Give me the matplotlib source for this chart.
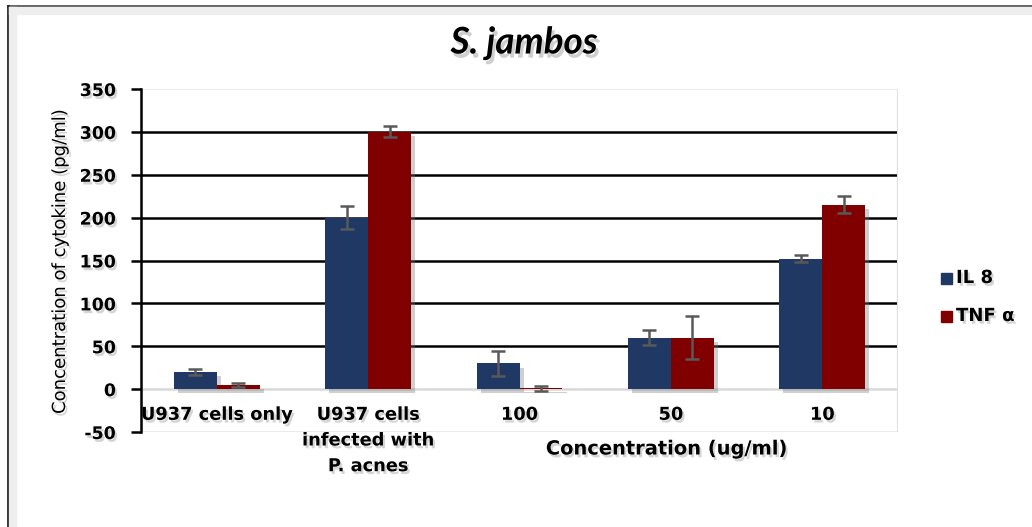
import numpy as np
import matplotlib
matplotlib.use("Agg")
import matplotlib.pyplot as plt
import matplotlib.patheffects as pe
from matplotlib.lines import Line2D
from matplotlib.patches import Rectangle

# Cytokine release (pg/ml) by U937 cells, S. jambos extract
categories = ["U937 cells only", "U937 cells\ninfected with\nP. acnes", "100", "50", "10"]
il8 = [20, 200, 30, 60, 152]
il8_err = [4, 13.5, 15, 9, 4]
tnf = [5, 300, 1, 60, 215]
tnf_err = [2, 6.5, 3, 25, 10]
series_names = ["IL 8", "TNF \u03b1"]
yticks = [-50, 0, 50, 100, 150, 200, 250, 300, 350]

navy = "#1f3864"
maroon = "#800000"
err_grey = "#595959"

plt.rcParams["font.family"] = ["DejaVu Sans"]

fig = plt.figure(figsize=(10.32, 5.27), dpi=100)
W, H = 1032, 527

def fx(px):
    return px / W

def fy(py):
    return 1 - py / H

ax = fig.add_axes([fx(141), fy(432), fx(898) - fx(141), fy(89) - fy(432)])
ax.set_xlim(-0.5, len(categories) - 0.5)
ax.set_ylim(-50, 350)

shadow_bar = [pe.SimplePatchShadow(offset=(3, -3), shadow_rgbFace="#777777", alpha=0.35), pe.Normal()]
shadow_txt = [pe.withSimplePatchShadow(offset=(1.5, -2), shadow_rgbFace="#888888", alpha=0.35)]

# horizontal gridlines
for v in yticks[2:-1]:
    ax.axhline(v, color="black", lw=1.8, zorder=1)
ax.axhline(350, color="#e6e6e6", lw=1.2, zorder=1)
ax.axhline(0, color="#d9d9d9", lw=1.8, zorder=1)
ax.axhline(-50, color="#e6e6e6", lw=1.2, zorder=1)
ax.axvline(len(categories) - 0.5, color="#e0e0e0", lw=1.5, zorder=1)

x = np.arange(len(categories))
w = 0.284
b1 = ax.bar(x - w / 2, il8, w, color=navy, zorder=3)
b2 = ax.bar(x + w / 2, tnf, w, color=maroon, zorder=3)
for b in list(b1) + list(b2):
    b.set_path_effects(shadow_bar)

ek = dict(fmt="none", ecolor=err_grey, elinewidth=1.8, capsize=5, capthick=1.8, zorder=4)
ax.errorbar(x - w / 2, il8, yerr=il8_err, **ek)
ax.errorbar(x + w / 2, tnf, yerr=tnf_err, **ek)

# axes styling
for s in ["top", "right", "bottom"]:
    ax.spines[s].set_visible(False)
ax.spines["left"].set_color("black")
ax.spines["left"].set_linewidth(1.8)
ax.set_yticks(yticks)
ax.set_yticklabels([str(t) for t in yticks], fontsize=12.5, fontweight="bold")
ax.tick_params(axis="y", direction="out", length=7, width=1.8, pad=11)
for t in ax.get_yticklabels():
    t.set_path_effects(shadow_txt)
ax.set_xticks([])

# category labels hang just below the zero line
for i, lab in enumerate(categories):
    t = ax.annotate(lab, xy=(i, 0), xytext=(0, -12), textcoords="offset points",
                    ha="center", va="top", fontsize=12.8, fontweight="bold",
                    linespacing=1.55)
    t.set_path_effects(shadow_txt)

# titles
t = fig.text(fx(524), fy(43), "S. jambos", ha="center", va="center",
             fontsize=26.5, fontweight="bold", style="italic", family=["Lato", "DejaVu Sans"])
t.set_path_effects([pe.withSimplePatchShadow(offset=(2, -3), shadow_rgbFace="#888888", alpha=0.4)])
t = fig.text(fx(60), fy(262), "Concentration of cytokine (pg/ml)", rotation=90,
             ha="center", va="center", fontsize=13)
t.set_path_effects(shadow_txt)
t = fig.text(fx(667), fy(449), "Concentration (ug/ml)", ha="center", va="center",
             fontsize=14, fontweight="bold")
t.set_path_effects(shadow_txt)

# legend
for name, col, py in zip(series_names, [navy, maroon], [278, 316]):
    fig.patches.append(Rectangle((fx(941), fy(py + 5.5)), fx(11), 11 / H, color=col,
                                 transform=fig.transFigure, figure=fig))
    t = fig.text(fx(956), fy(py), name, ha="left", va="center", fontsize=13, fontweight="bold")
    t.set_path_effects(shadow_txt)

# outer frame
fig.add_artist(Line2D([fx(8), 1], [fy(5.5), fy(5.5)], color="#555555", lw=2, transform=fig.transFigure))
fig.add_artist(Line2D([fx(8), fx(8)], [fy(5.5), 0], color="#222222", lw=2, transform=fig.transFigure))
fig.add_artist(Line2D([fx(13), 1], [fy(11), fy(11)], color="#eeeeee", lw=6, transform=fig.transFigure))
fig.add_artist(Line2D([fx(13), fx(13)], [fy(11), 0], color="#eeeeee", lw=6, transform=fig.transFigure))

fig.savefig("out.png", dpi=100)
